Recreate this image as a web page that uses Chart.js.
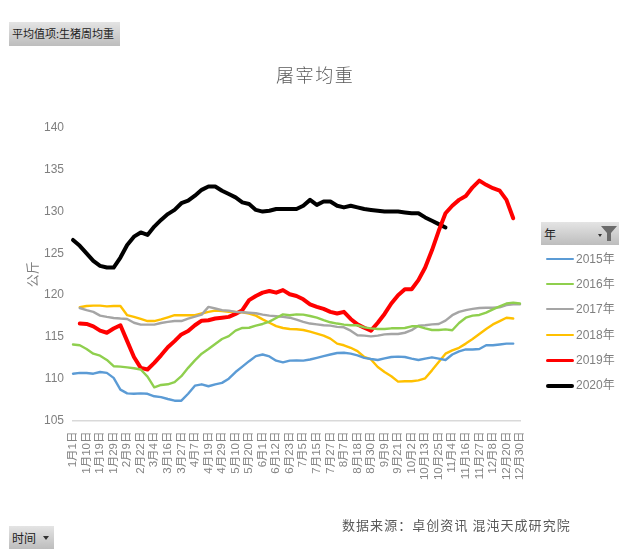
<!DOCTYPE html>
<html lang="zh">
<head>
<meta charset="utf-8">
<script src="https://cdn.jsdelivr.net/npm/chart.js@4"></script>
<style>
html,body{margin:0;padding:0;background:#fff;width:632px;height:555px;overflow:hidden;font-family:"Noto Sans CJK SC",sans-serif}
#c{position:absolute;left:0;top:0}
.btn{position:absolute;background:linear-gradient(#e4e4e4,#bdbdbd);color:#222;font-size:12px;line-height:23px;height:23px;white-space:nowrap;box-sizing:border-box;padding-left:3px}
.arrow{position:absolute;width:0;height:0;border-left:3px solid transparent;border-right:3px solid transparent;border-top:4px solid #333}
#legend div.item{position:absolute;left:546px;height:20px;font:12px "Liberation Sans","Noto Sans CJK SC",sans-serif;color:#7f7f7f;line-height:20px;padding-left:30px;white-space:nowrap}
#legend i{position:absolute;left:0;top:9px;width:28px;border-radius:2px}
#source{position:absolute;left:342px;top:515px;font-size:13px;letter-spacing:1.05px;color:#595959;white-space:nowrap}
#title{position:absolute;left:276px;top:61px;font-size:18px;line-height:26px;letter-spacing:1.6px;color:#595959;font-weight:300;white-space:nowrap}
</style>
</head>
<body>
<canvas id="c" width="632" height="555"></canvas>
<div id="title">屠宰均重</div>
<div class="btn" style="left:9px;top:22px;width:111px;height:24px;font-size:11px">平均值项:生猪周均重</div>
<div class="btn" style="left:9px;top:526px;width:45px">时间<span class="arrow" style="left:34px;top:10px"></span></div>
<div class="btn" style="left:541px;top:222px;width:78px">年<span class="arrow" style="left:57px;top:12px;border-left-width:2px;border-right-width:2px;border-top-width:3px"></span>
<svg style="position:absolute;left:60px;top:4px" width="16" height="15"><path d="M0 0H16L10 7V15H6V7Z" fill="#6b6b6b"/></svg></div>
<div id="legend"></div>
<div id="source">数据来源：卓创资讯 混沌天成研究院</div>
<script>
const categories = ["1月1日","1月5日","1月10日","1月15日","1月19日","1月24日","1月29日","2月3日","2月9日","2月15日","2月22日","2月27日","3月4日","3月10日","3月16日","3月21日","3月27日","4月1日","4月7日","4月13日","4月19日","4月24日","4月29日","5月4日","5月10日","5月15日","5月20日","5月26日","6月1日","6月6日","6月12日","6月17日","6月23日","6月29日","7月5日","7月10日","7月15日","7月21日","7月27日","8月1日","8月7日","8月12日","8月18日","8月24日","8月30日","9月4日","9月9日","9月15日","9月21日","9月27日","10月2日","10月7日","10月13日","10月19日","10月25日","10月30日","11月4日","11月10日","11月16日","11月21日","11月27日","12月2日","12月8日","12月14日","12月20日","12月25日","12月30日"];
const yTicks = [105,110,115,120,125,130,135,140];
const y2015 = [110.6,110.7,110.68,110.6,110.8,110.7,110.1,108.7,108.25,108.2,108.25,108.2,107.9,107.8,107.57,107.37,107.37,108.2,109.17,109.33,109.1,109.33,109.5,110.0,110.8,111.45,112.1,112.7,112.9,112.67,112.16,111.96,112.16,112.2,112.16,112.3,112.5,112.7,112.9,113.08,113.1,113.0,112.8,112.5,112.36,112.24,112.44,112.6,112.64,112.6,112.4,112.24,112.4,112.56,112.4,112.24,112.9,113.28,113.5,113.5,113.56,114.0,114.0,114.1,114.2,114.2,null];
const y2016 = [114.1,114.0,113.56,113.0,112.76,112.25,111.5,111.45,111.36,111.25,111.1,110.25,108.97,109.25,109.33,109.6,110.3,111.3,112.2,113.0,113.56,114.16,114.75,115.1,115.75,116.07,116.1,116.35,116.55,116.83,117.27,117.7,117.6,117.7,117.67,117.5,117.3,117.0,116.75,116.6,116.47,116.4,116.4,116.15,116.03,115.95,115.95,116.03,116.03,116.07,116.27,116.27,116.03,115.83,115.83,115.9,115.8,116.67,117.3,117.55,117.63,117.9,118.3,118.66,119.0,119.1,119.0];
const y2017 = [null,118.46,118.2,118.0,117.55,117.4,117.27,117.2,117.15,116.7,116.47,116.47,116.47,116.67,116.8,116.9,116.9,117.2,117.43,117.67,118.6,118.4,118.2,118.15,118.0,117.95,117.9,117.83,117.67,117.55,117.47,117.4,117.3,117.08,116.8,116.6,116.5,116.4,116.35,116.2,116.15,115.75,115.2,115.15,115.07,115.15,115.3,115.35,115.35,115.5,115.8,116.35,116.4,116.5,116.55,116.95,117.6,118.0,118.2,118.35,118.46,118.5,118.5,118.55,118.8,118.9,118.9];
const y2018 = [null,118.55,118.7,118.74,118.74,118.66,118.7,118.7,117.6,117.4,117.15,116.9,116.9,117.1,117.35,117.6,117.6,117.6,117.6,117.8,118.0,118.15,118.1,118.0,118.0,117.95,117.8,117.55,117.1,116.7,116.3,116.07,115.95,115.92,115.83,115.63,115.4,115.15,114.8,114.2,114.0,113.7,113.3,112.6,112.3,111.4,110.8,110.3,109.65,109.7,109.7,109.8,110.05,111.0,112.0,113.0,113.4,113.7,114.2,114.75,115.35,115.95,116.5,116.9,117.3,117.2,null];
const y2019 = [null,116.6,116.55,116.27,115.75,115.5,116.0,116.4,114.5,112.6,111.3,111.1,111.9,112.8,113.76,114.5,115.3,115.7,116.4,116.95,117.0,117.2,117.3,117.4,117.75,118.2,119.4,119.9,120.3,120.5,120.3,120.6,120.1,119.9,119.5,118.9,118.6,118.35,118.0,117.8,118.0,117.15,116.5,116.1,115.75,116.7,117.75,119.0,120.0,120.7,120.7,121.8,123.3,125.36,127.7,129.8,130.7,131.4,131.86,132.9,133.7,133.2,132.8,132.5,131.4,129.2,null];
const y2020 = [126.6,125.9,125.0,124.1,123.5,123.3,123.3,124.5,126.0,127.0,127.5,127.2,128.2,129.0,129.7,130.2,131.0,131.3,131.9,132.6,133.0,133.0,132.5,132.1,131.7,131.1,130.9,130.2,130.0,130.1,130.3,130.3,130.3,130.3,130.7,131.4,130.8,131.2,131.2,130.7,130.5,130.7,130.5,130.3,130.2,130.1,130.0,130.0,130.0,129.9,129.8,129.8,129.3,128.9,128.5,128.1,null,null,null,null,null,null,null,null,null,null,null];
const seriesNames = ["2015年","2016年","2017年","2018年","2019年","2020年"];
const seriesValues = [y2015,y2016,y2017,y2018,y2019,y2020];
const seriesColors = ["#5B9BD5","#8FCF4E","#A5A5A5","#FFC000","#FF0000","#000000"];
const seriesWidths = [2.4,2.4,2.4,2.4,4,4];

const tickFont = {family:'"Liberation Sans","Noto Sans CJK SC",sans-serif',size:11.5};
new Chart(document.getElementById('c'),{
  type:'line',
  data:{labels:categories,datasets:seriesNames.map((n,i)=>({
    label:n,data:seriesValues[i],borderColor:seriesColors[i],backgroundColor:seriesColors[i],
    borderWidth:seriesWidths[i],pointRadius:0,tension:0,clip:false,
    borderJoinStyle:'round',borderCapStyle:'round'}))},
  options:{
    responsive:false,animation:false,
    layout:{padding:{left:0,right:112,top:128,bottom:0}},
    plugins:{legend:{display:false},tooltip:{enabled:false},title:{display:false}},
    scales:{
      x:{offset:false,
        afterFit(s){s.height=134.5},
        grid:{display:false,drawTicks:false},
        border:{color:'#d9d9d9',width:1.5},
        ticks:{autoSkip:false,minRotation:90,maxRotation:90,padding:11,color:'#858585',font:tickFont,
          callback(v,i){return i%2?null:categories[i]}}
      },
      y:{min:105,max:140,
        afterFit(s){s.width=73},
        afterBuildTicks(s){s.ticks=yTicks.map(v=>({value:v}))},
        grid:{display:false,drawTicks:false},
        border:{display:false},
        title:{display:true,text:'公斤',color:'#7f7f7f',font:{family:'"Noto Sans CJK SC",sans-serif',size:13},padding:{top:24,bottom:0}},
        ticks:{padding:9,color:'#7f7f7f',font:{family:tickFont.family,size:12}}
      }
    }
  }
});
const lg=document.getElementById('legend');
seriesNames.forEach((n,i)=>{
  const d=document.createElement('div');d.className='item';
  d.style.top=(249+i*25.2)+'px';d.textContent=n;
  const s=document.createElement('i');
  s.style.background=seriesColors[i];s.style.height=(i>3?3.5:2)+'px';
  d.appendChild(s);lg.appendChild(d);
});
</script>
</body>
</html>
